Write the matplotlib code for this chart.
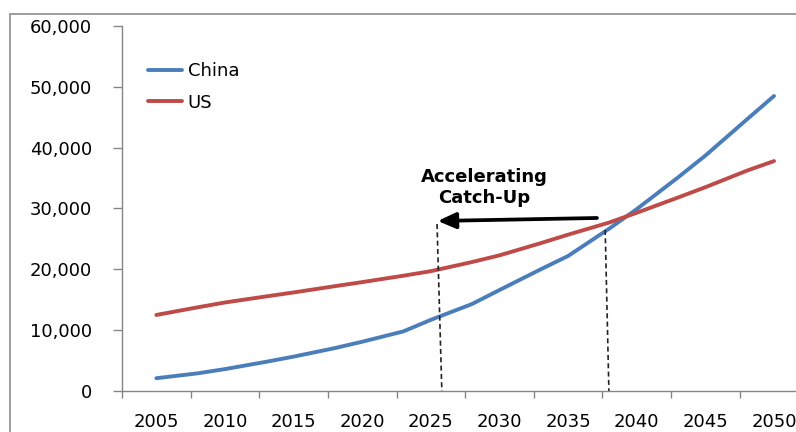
import matplotlib
matplotlib.use('Agg')
import matplotlib.pyplot as plt
import matplotlib.patches as patches
from matplotlib.ticker import FuncFormatter, FixedLocator

# values
years = [2005, 2008, 2010, 2013, 2015, 2018, 2020, 2023, 2025, 2028,
         2030, 2033, 2035, 2038, 2040, 2043, 2045, 2048, 2050]
china = [2100, 2900, 3600, 4800, 5650, 7050, 8100, 9800, 11700, 14300,
         16600, 20000, 22200, 26700, 29900, 35100, 38700, 44600, 48500]
us = [12500, 13750, 14550, 15550, 16200, 17230, 17900, 18950, 19700, 21200,
      22300, 24300, 25700, 27700, 29300, 31800, 33500, 36200, 37800]
tick_years = [2005, 2010, 2015, 2020, 2025, 2030, 2035, 2040, 2045, 2050]
y_ticks = [0, 10000, 20000, 30000, 40000, 50000, 60000]

# annotation marks (year, value)
dash1 = ([2025.45, 2025.8], [27450, 0])
dash2 = ([2037.7, 2037.97], [26470, 0])
arrow_from = (2037.1, 28440)
arrow_to = (2025.5, 27950)

blue = '#4A7EBB'
red = '#BE4B48'
grey = '#868686'

fig = plt.figure(figsize=(7.96, 4.32), dpi=100)
ax = fig.add_axes([122 / 796, 41 / 432, 674 / 796, 365 / 432])

ax.plot(years, china, color=blue, lw=2.8, label='China', solid_capstyle='round')
ax.plot(years, us, color=red, lw=2.8, label='US', solid_capstyle='round')

ax.plot(dash1[0], dash1[1], color='#222222', lw=1.2, ls=(0, (3, 2)))
ax.plot(dash2[0], dash2[1], color='#222222', lw=1.2, ls=(0, (3, 2)))

ax.annotate('', xy=arrow_to, xytext=arrow_from,
            arrowprops=dict(arrowstyle='-|>,head_length=0.9,head_width=0.4',
                            lw=2.7, color='black', shrinkA=0, shrinkB=0,
                            mutation_scale=12))
ax.text(2028.9, 33400, 'Accelerating\nCatch-Up', ha='center', va='center',
        fontsize=13, fontweight='bold', linespacing=1.2)

ax.set_xlim(2002.5, 2051.6)
ax.set_ylim(0, 60000)

# labels sit on the categories, tick marks between them
ax.xaxis.set_major_locator(FixedLocator(tick_years))
ax.xaxis.set_minor_locator(FixedLocator([y - 2.5 for y in tick_years] + [2052.5]))
ax.tick_params(axis='x', which='major', length=0, pad=16, labelsize=13)
ax.tick_params(axis='x', which='minor', length=5, width=1, color=grey, direction='out')
ax.set_yticks(y_ticks)
ax.yaxis.set_major_formatter(FuncFormatter(lambda v, p: f'{int(v):,}'))
ax.tick_params(axis='y', length=6.5, width=1, color=grey, pad=15, labelsize=13)

for s in ['top', 'right']:
    ax.spines[s].set_visible(False)
for s in ['left', 'bottom']:
    ax.spines[s].set_color(grey)
    ax.spines[s].set_linewidth(1)

ax.legend(loc='upper left', bbox_to_anchor=(148 / 796, 1 - 62 / 432),
          bbox_transform=fig.transFigure, frameon=False, fontsize=13,
          handlelength=1.9, handletextpad=0.3, labelspacing=0.75,
          borderpad=0, borderaxespad=0)

# outer chart border (cropped)
fig.patches.append(patches.Rectangle((10 / 796, -0.2), 1.5, 1.2 - 14 / 432,
                                     transform=fig.transFigure, fill=False,
                                     edgecolor='#8c8c8c', lw=1.2))

fig.savefig('out.png', dpi=100)
